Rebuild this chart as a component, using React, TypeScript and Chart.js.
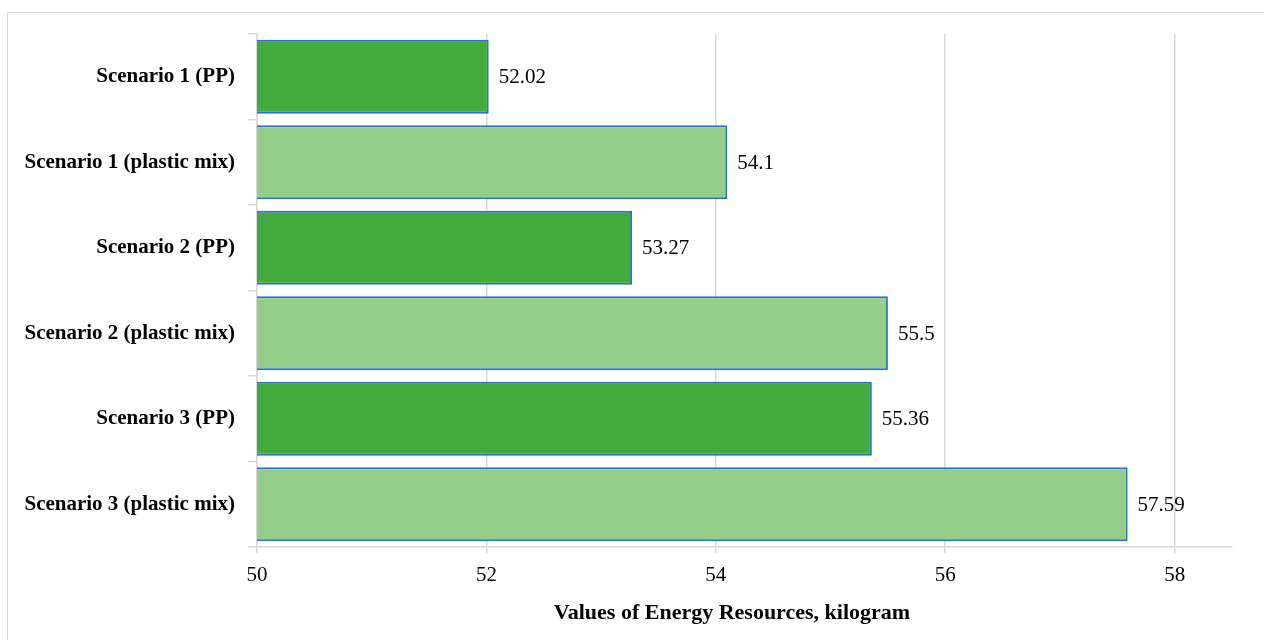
import React, { useEffect, useRef } from "react";
import { Chart, registerables } from "chart.js";

Chart.register(...registerables);

const categories = [
  "Scenario 1 (PP)",
  "Scenario 1 (plastic mix)",
  "Scenario 2 (PP)",
  "Scenario 2 (plastic mix)",
  "Scenario 3 (PP)",
  "Scenario 3 (plastic mix)",
];
const values = [52.02, 54.1, 53.27, 55.5, 55.36, 57.59];
const valueLabels = ["52.02", "54.1", "53.27", "55.5", "55.36", "57.59"];
const barColors = ["#43ab3c", "#94cf8a", "#43ab3c", "#94cf8a", "#43ab3c", "#94cf8a"];
const xTicks = [50, 52, 54, 56, 58];
const xTitle = "Values of Energy Resources, kilogram";

const FONT = "'Liberation Serif', 'Times New Roman', serif";

const valueLabelPlugin = {
  id: "valueLabels",
  afterDatasetsDraw(chart: any) {
    const ctx = chart.ctx;
    const meta = chart.getDatasetMeta(0);
    ctx.save();
    ctx.font = `21px ${FONT}`;
    ctx.fillStyle = "#000000";
    ctx.textAlign = "left";
    ctx.textBaseline = "middle";
    meta.data.forEach((bar: any, i: number) => {
      ctx.fillText(valueLabels[i], bar.x + 10, bar.y + 1);
    });
    ctx.restore();
  },
};

const axisTitlePlugin = {
  id: "axisTitle",
  afterDraw(chart: any) {
    const ctx = chart.ctx;
    ctx.save();
    ctx.font = `bold 22px ${FONT}`;
    ctx.fillStyle = "#000000";
    ctx.textAlign = "center";
    ctx.textBaseline = "middle";
    ctx.fillText(xTitle, 732, 613);
    ctx.restore();
  },
};

export default function App() {
  const canvasRef = useRef<HTMLCanvasElement>(null);

  useEffect(() => {
    const canvas = canvasRef.current;
    if (!canvas) return;
    const chart = new Chart(canvas, {
      type: "bar",
      data: {
        labels: categories,
        datasets: [
          {
            data: values,
            backgroundColor: barColors,
            borderColor: "#2a70c9",
            borderWidth: 2,
            barPercentage: 0.865,
            categoryPercentage: 1,
          },
        ],
      },
      options: {
        indexAxis: "y",
        animation: false,
        responsive: false,
        maintainAspectRatio: false,
        layout: { padding: { top: 34, right: 32, bottom: 0, left: 0 } },
        plugins: {
          legend: { display: false },
          tooltip: { enabled: false },
          title: { display: false },
        },
        scales: {
          x: {
            type: "linear",
            min: 50,
            max: 58.5,
            afterBuildTicks(scale: any) {
              scale.ticks = xTicks.map((v) => ({ value: v }));
            },
            afterFit(scale: any) {
              scale.height = 93;
            },
            grid: {
              color: "#d9d9d9",
              lineWidth: 1.5,
              drawTicks: true,
              tickLength: 6,
            },
            border: { display: true, color: "#d9d9d9", width: 1.5 },
            ticks: {
              color: "#000000",
              font: { family: FONT, size: 21 },
              padding: 10,
              maxRotation: 0,
            },
            title: { display: false },
          },
          y: {
            type: "category",
            afterFit(scale: any) {
              scale.width = 257;
            },
            grid: {
              offset: true,
              drawOnChartArea: false,
              drawTicks: true,
              tickLength: 9,
              color: "#d9d9d9",
              lineWidth: 1.5,
            },
            border: { display: true, color: "#d9d9d9", width: 1.5 },
            ticks: {
              color: "#000000",
              font: { family: FONT, size: 21, weight: "bold" },
              padding: 13,
            },
          },
        },
      },
      plugins: [valueLabelPlugin, axisTitlePlugin],
    } as any);
    return () => chart.destroy();
  }, []);

  return (
    <div
      style={{
        position: "fixed",
        left: 0,
        top: 0,
        width: 1264,
        height: 640,
        background: "#ffffff",
        overflow: "hidden",
      }}
    >
      <div
        style={{
          position: "absolute",
          left: 7,
          top: 12,
          width: 1300,
          height: 700,
          border: "1px solid #d9d9d9",
        }}
      />
      <canvas
        ref={canvasRef}
        width={1264}
        height={640}
        style={{ position: "absolute", left: 0, top: 0, width: 1264, height: 640 }}
      />
    </div>
  );
}
